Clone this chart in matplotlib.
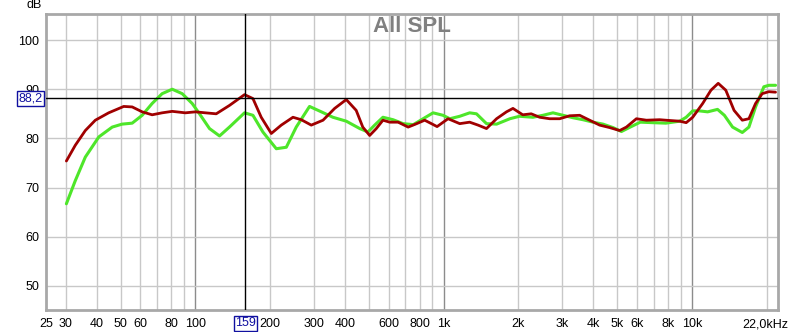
import matplotlib
matplotlib.use("Agg")
import matplotlib.pyplot as plt
import matplotlib.transforms as mtransforms
import numpy as np

# Green trace (frequency Hz, SPL dB)
green_freq = [30.2, 32.8, 36.0, 40.8, 46.2, 50.6, 55.6, 61, 66.9, 73.4, 80.6, 88.4, 97,
              103.8, 113.9, 125, 137, 157.6, 170.4, 186.9, 211.6, 232.2, 254.6, 288,
              321.4, 357.7, 405, 459, 495, 527, 569, 625, 686, 754, 826, 906, 993,
              1058, 1160, 1272, 1355, 1487, 1632, 1847, 2019, 2286, 2510, 2754, 3022,
              3316, 3638, 3993, 4381, 4808, 5197, 5638, 6187, 6945, 7845, 8917, 9475,
              10065, 10700, 11560, 12670, 13500, 14570, 15940, 16950, 18030, 19470,
              20400, 21700]
green_db = [66.7, 71.4, 76.2, 80.3, 82.3, 82.9, 83.1, 84.7, 87.1, 89.1, 90.0, 89.1, 87.1,
            85.0, 82.0, 80.5, 82.3, 85.2, 84.7, 81.3, 77.9, 78.2, 82.3, 86.5,
            85.4, 84.3, 83.5, 82.0, 81.3, 82.7, 84.3, 83.8, 83.0, 82.8, 84.0, 85.2, 84.7,
            84.0, 84.5, 85.2, 85.0, 83.0, 82.9, 84.0, 84.5, 84.3, 84.7, 85.2, 84.7,
            84.2, 83.8, 83.3, 82.9, 82.2, 81.4, 82.3, 83.3, 83.2, 83.1, 83.5, 84.3,
            85.6, 85.6, 85.4, 85.9, 84.7, 82.3, 81.2, 82.3, 86.4, 90.5,
            90.8, 90.8]

# Dark red trace
red_freq = [30.2, 32.8, 36.0, 39.5, 44.7, 51.4, 55.6, 61, 66.9, 73.4, 80.6, 91, 100,
            109.7, 121.2, 137, 157.6, 170.4, 184, 202, 221.6, 247, 266.7, 292.7,
            326.4, 363.6, 405, 444, 472, 503, 535, 569, 606, 655, 719, 778, 838, 892,
            940, 1041, 1160, 1272, 1375, 1487, 1632, 1789, 1900, 2081, 2251, 2434,
            2670, 2930, 3215, 3527, 3870, 4246, 4659, 5111, 5440, 5970, 6550, 7400,
            7845, 8917, 9475, 10065, 11040, 11920, 12750, 13680, 14770, 15940, 16950,
            18030, 19170, 20400, 21700]
red_db = [75.4, 78.6, 81.6, 83.7, 85.2, 86.5, 86.4, 85.4, 84.8, 85.2, 85.5, 85.2, 85.4,
          85.2, 85.0, 86.7, 88.9, 88.1, 84.3, 81.0, 82.7, 84.3, 83.8, 82.7,
          83.7, 86.1, 87.9, 85.7, 82.3, 80.6, 82.0, 83.7, 83.3, 83.3, 82.3, 83.0, 83.7, 83.0,
          82.4, 84.0, 83.0, 83.3, 82.7, 82.0, 84.0, 85.4, 86.1, 84.8, 85.0, 84.3,
          84.0, 84.0, 84.6, 84.7, 83.7, 82.7, 82.2, 81.6, 82.3, 84.0, 83.7, 83.8,
          83.7, 83.5, 83.2, 84.3, 87.1, 89.8, 91.2, 89.8, 85.7, 83.7, 84.0,
          87.1, 89.1, 89.5, 89.4]

tick_freqs = [25, 30, 40, 50, 60, 80, 100, 200, 300, 400, 600, 800, 1000,
              2000, 3000, 4000, 5000, 6000, 8000, 10000, 22000]
tick_labels = ["25", "30", "40", "50", "60", "80", "100", "200", "300", "400", "600",
               "800", "1k", "2k", "3k", "4k", "5k", "6k", "8k", "10k", "22,0kHz"]
db_ticks = [50, 60, 70, 80, 90, 100]

cursor_freq = 159
cursor_db = 88.2

plt.rcParams['font.family'] = ['Liberation Sans', 'DejaVu Sans']

fig = plt.figure(figsize=(8, 3.32), dpi=100)
ax = fig.add_axes([46 / 800, 1 - 310 / 332, 732 / 800, 296 / 332])
ax.set_xscale('log')
ax.set_xlim(25, 22200)
ax.set_ylim(45.1, 105.3)

# grid lines
for dec in [10, 100, 1000, 10000]:
    for m in range(1, 10):
        f = dec * m
        if 25 < f < 22200:
            c = '#8c8c8c' if m == 1 else '#c8c8c8'
            ax.axvline(f, color=c, lw=1, zorder=1)
for d in db_ticks:
    ax.axhline(d, color='#c8c8c8', lw=1, zorder=1)

ax.plot(green_freq, green_db, color='#4ee62a', lw=2.2, zorder=3,
        solid_joinstyle='round', solid_capstyle='round')
ax.plot(red_freq, red_db, color='#a00000', lw=2.0, zorder=4,
        solid_joinstyle='round', solid_capstyle='round')

# cursor
ax.axvline(cursor_freq, color='black', lw=1, zorder=5)
ax.axhline(cursor_db, color='black', lw=1, zorder=5)

ax.set_xticks(tick_freqs)
ax.set_xticklabels(tick_labels)
ax.xaxis.set_minor_locator(matplotlib.ticker.NullLocator())
ax.set_yticks(db_ticks)
ax.tick_params(length=0, labelsize=9, pad=6)
ax.tick_params(axis='y', pad=5)

# the last label sits a bit left of its tick
last = ax.get_xticklabels()[-1]
last.set_transform(last.get_transform() +
                   mtransforms.ScaledTranslation(-12 / 100, 0, fig.dpi_scale_trans))

for s in ax.spines.values():
    s.set_color('#a8a8a8')
    s.set_linewidth(2)

ax.text(0.5, 0.958, "All SPL", transform=ax.transAxes, ha='center', va='center',
        fontsize=16, fontweight='bold', color='#808080', zorder=6)
fig.text(42 / 800, 1 - 5 / 332, "dB", ha='right', va='center', fontsize=9)

box = dict(boxstyle='square,pad=0.12', fc='white', ec='#1010a0', lw=1)
ax.text(-0.005, cursor_db, "88,2", transform=ax.get_yaxis_transform(), ha='right',
        va='center', fontsize=9, color='#1010a0', bbox=box, zorder=7, clip_on=False)
ax.text(cursor_freq, -0.045, "159", transform=ax.get_xaxis_transform(), ha='center',
        va='center', fontsize=9, color='#1010a0', bbox=box, zorder=7, clip_on=False)

fig.savefig("out.png", dpi=100)
